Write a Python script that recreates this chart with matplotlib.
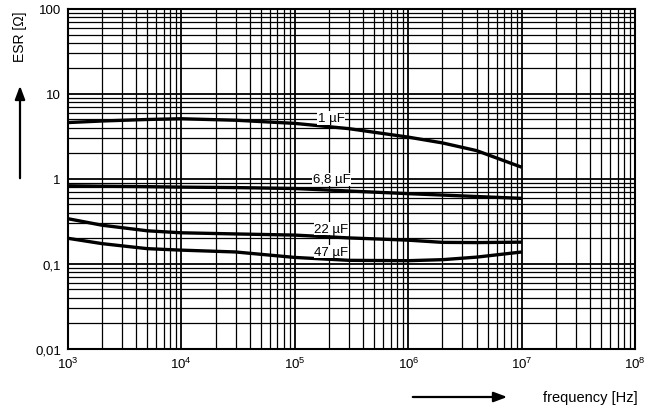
import numpy as np
import matplotlib
matplotlib.use("Agg")
import matplotlib.pyplot as plt

plt.rcParams['font.family'] = ['Liberation Sans', 'DejaVu Sans']

# ESR curves
freq = [1e3, 2e3, 5e3, 1e4, 3e4, 1e5, 3e5, 1e6, 2e6, 4e6, 1e7]
esr_1uF = [4.6, 4.8, 5.0, 5.1, 4.9, 4.5, 3.9, 3.1, 2.65, 2.15, 1.37]
esr_6u8F = [0.83, 0.82, 0.81, 0.80, 0.79, 0.77, 0.72, 0.67, 0.645, 0.62, 0.59]
esr_22uF = [0.34, 0.285, 0.245, 0.232, 0.225, 0.218, 0.202, 0.19, 0.179, 0.178, 0.18]
esr_47uF = [0.20, 0.173, 0.151, 0.145, 0.138, 0.119, 0.110, 0.109, 0.112, 0.12, 0.138]

curves = [esr_1uF, esr_6u8F, esr_22uF, esr_47uF]
curve_labels = ["1 µF", "6,8 µF", "22 µF", "47 µF"]
label_x = [2.1e5, 2.1e5, 2.1e5, 2.1e5]
label_y = [5.2, 0.99, 0.26, 0.139]

x_ticks = [1e3, 1e4, 1e5, 1e6, 1e7, 1e8]
x_ticklabels = [r'$\mathregular{10^{%d}}$' % e for e in range(3, 9)]
y_ticks = [0.01, 0.1, 1, 10, 100]
y_ticklabels = ["0,01", "0,1", "1", "10", "100"]

fig = plt.figure(figsize=(6.59, 4.14), dpi=100)
ax = fig.add_axes([0.103, 0.155, 0.861, 0.821])
ax.set_xscale('log')
ax.set_yscale('log')
ax.set_xlim(1e3, 1e8)
ax.set_ylim(0.01, 100)

ax.grid(True, which='major', color='black', lw=1.3)
ax.grid(True, which='minor', color='black', lw=0.9)
ax.set_axisbelow(True)

for esr in curves:
    ax.plot(freq, esr, color='black', lw=2.4, solid_capstyle='butt')

for lab, lx, ly in zip(curve_labels, label_x, label_y):
    ax.text(lx, ly, lab, ha='center', va='center', fontsize=9.5,
            bbox=dict(facecolor='white', edgecolor='none', pad=0.5))

ax.set_xticks(x_ticks)
ax.set_xticklabels(x_ticklabels, fontsize=9.5)
ax.set_yticks(y_ticks)
ax.set_yticklabels(y_ticklabels, fontsize=9.5)
ax.tick_params(which='both', length=0, pad=5)
for s in ax.spines.values():
    s.set_linewidth(1.5)

# axis titles with arrows, like the original sheet
fig.text(20 / 659, 1 - 37 / 414, "ESR [Ω]", rotation=90, ha='center', va='center', fontsize=10)
fig.add_artist(matplotlib.patches.FancyArrowPatch(
    (20 / 659, 1 - 182 / 414), (20 / 659, 1 - 84 / 414), transform=fig.transFigure,
    arrowstyle='-|>,head_length=8,head_width=3', color='black', lw=1.6))
fig.text(543 / 659, 1 - 398 / 414, "frequency [Hz]", ha='left', va='center', fontsize=10.5)
fig.add_artist(matplotlib.patches.FancyArrowPatch(
    (410 / 659, 1 - 398 / 414), (510 / 659, 1 - 398 / 414), transform=fig.transFigure,
    arrowstyle='-|>,head_length=8,head_width=3', color='black', lw=1.6))

fig.savefig("out.png", dpi=100)
